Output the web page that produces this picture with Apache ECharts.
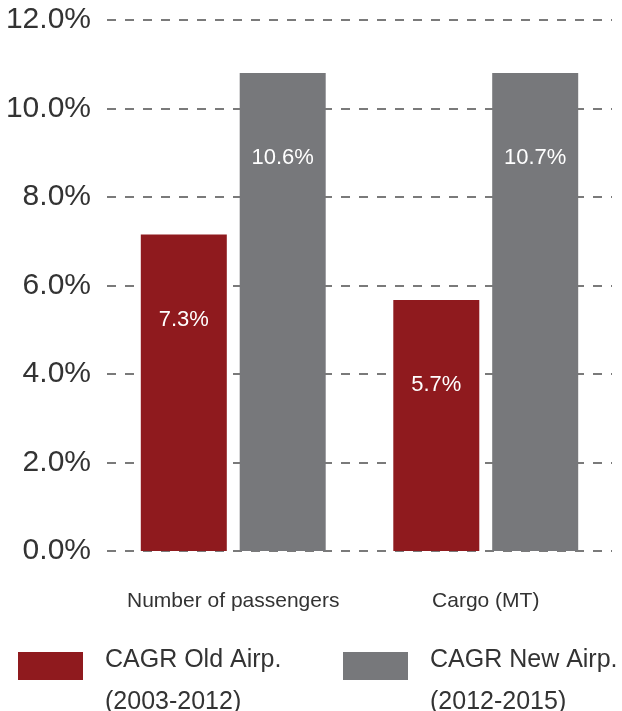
<!DOCTYPE html>
<html>
<head>
<meta charset="utf-8">
<script src="https://cdn.jsdelivr.net/npm/echarts@6/dist/echarts.min.js"></script>
<style>
html,body{margin:0;padding:0;background:#fff;}
#chart{width:622px;height:711px;}
</style>
</head>
<body>
<div id="chart"></div>
<script>
// Data
var categories = ['Number of passengers', 'Cargo (MT)'];
var oldAirport = [7.15, 5.67];     // bar heights (%)
var newAirport = [10.8, 10.8];     // bar heights (%)
var oldLabels = ['7.3%', '5.7%'];  // printed labels
var newLabels = ['10.6%', '10.7%'];
var seriesNames = ['CAGR Old Airp.', 'CAGR New Airp.'];
var seriesPeriods = ['(2003-2012)', '(2012-2015)'];
var yTicks = [0, 2, 4, 6, 8, 10, 12];

var FONT = 'Liberation Sans';
var RED = '#8f1a1e';
var GRAY = '#77787b';

var chart = echarts.init(document.getElementById('chart'), null, {renderer: 'canvas'});

function legendFor(i, left) {
  return {
    data: [seriesNames[i]],
    left: left,
    top: 619,
    orient: 'horizontal',
    padding: 0,
    itemWidth: 65,
    itemHeight: 28,
    icon: 'rect',
    selectedMode: false,
    formatter: function (name) {
      return '{s| }\n{a|' + name + '}\n{a|' + seriesPeriods[i] + '}';
    },
    textStyle: {
      fontFamily: FONT,
      fontSize: 25,
      color: '#333',
      padding: [0, 0, 0, 17],
      rich: {
        s: {fontSize: 10, lineHeight: 30},
        a: {fontFamily: FONT, fontSize: 25, lineHeight: 42, color: '#333'}
      }
    }
  };
}

var option = {
  animation: false,
  backgroundColor: '#fff',
  grid: {left: 107, right: 10, top: 20, bottom: 160, containLabel: false},
  legend: [legendFor(0, 18), legendFor(1, 343)],
  xAxis: {
    type: 'category',
    data: categories,
    axisLine: {show: false},
    axisTick: {show: false},
    axisLabel: {
      interval: 0,
      fontFamily: FONT,
      fontSize: 21,
      color: '#333',
      margin: 40
    }
  },
  yAxis: {
    type: 'value',
    min: yTicks[0],
    max: yTicks[yTicks.length - 1],
    interval: 2,
    axisLine: {show: false},
    axisTick: {show: false},
    axisLabel: {
      fontFamily: FONT,
      fontSize: 30,
      color: '#333',
      margin: 16,
      formatter: function (v) { return v.toFixed(1) + '%'; }
    },
    splitLine: {
      show: true,
      lineStyle: {color: '#7a7a7a', width: 2, type: [9, 9]}
    }
  },
  series: [
    {
      name: seriesNames[0],
      type: 'bar',
      data: oldAirport,
      barWidth: 86,
      barGap: '15%',
      itemStyle: {color: RED},
      label: {
        show: true,
        position: 'insideTop',
        distance: 74,
        fontFamily: FONT,
        fontSize: 22,
        color: '#fff',
        formatter: function (p) { return oldLabels[p.dataIndex]; }
      }
    },
    {
      name: seriesNames[1],
      type: 'bar',
      data: newAirport,
      barWidth: 86,
      barGap: '15%',
      itemStyle: {color: GRAY},
      label: {
        show: true,
        position: 'insideTop',
        distance: 74,
        fontFamily: FONT,
        fontSize: 22,
        color: '#fff',
        formatter: function (p) { return newLabels[p.dataIndex]; }
      }
    }
  ]
};
chart.setOption(option);
</script>
</body>
</html>
